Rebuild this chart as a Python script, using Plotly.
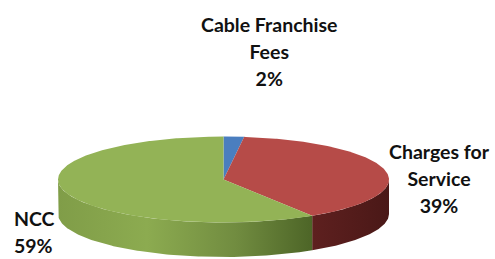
import numpy as np
import plotly.graph_objects as go

# ---- data ----
categories = ["Cable Franchise<br>Fees", "Charges for<br>Service", "NCC"]
values = [2, 39, 59]
top_colors = ["#4a7ebf", "#b64b48", "#93b356"]
side_scales = [
    [[0, "#3a6598"], [1, "#2e5280"]],
    [[0, "#5e201f"], [1, "#4a1817"]],
    [[0, "#809d48"], [0.35, "#8cab50"], [0.7, "#718c40"], [1, "#4d6527"]],
]

# ---- geometry (pixel-like layout units) ----
W, H = 495, 259
cx, cy, rx, ry, depth = 223.5, 179.5, 165.5, 43.0, 34.5


def pt(theta_deg, dy=0.0):
    t = np.radians(theta_deg)
    return cx + rx * np.sin(t), cy - ry * np.cos(t) + dy


total = sum(values)
bounds = np.concatenate([[0], np.cumsum(values) / total * 360.0])

fig = go.Figure()

# front sides (visible for theta between 90 and 270, clockwise from 12 o'clock)
for i in range(len(values)):
    a, b = bounds[i], bounds[i + 1]
    lo, hi = max(a, 90.0), min(b, 270.0)
    if hi <= lo:
        continue
    th = np.linspace(lo, hi, 120)
    xt, yt = pt(th)
    xb, yb = pt(th[::-1], depth)
    xs = np.concatenate([xt, xb, xt[:1]])
    ys = np.concatenate([yt, yb, yt[:1]])
    fig.add_trace(go.Scatter(
        x=xs, y=ys, mode="lines", fill="toself",
        line=dict(width=0, color=side_scales[i][0][1]),
        fillgradient=dict(type="horizontal", colorscale=side_scales[i]),
        hoverinfo="skip", showlegend=False))

# top faces
for i in range(len(values)):
    a, b = bounds[i], bounds[i + 1]
    th = np.linspace(a, b, max(8, int((b - a) * 2)))
    xt, yt = pt(th)
    xs = np.concatenate([[cx], xt, [cx]])
    ys = np.concatenate([[cy], yt, [cy]])
    fig.add_trace(go.Scatter(
        x=xs, y=ys, mode="lines", fill="toself",
        fillcolor=top_colors[i], line=dict(width=0, color=top_colors[i]),
        hoverinfo="skip", showlegend=False))

# labels
label_pos = [
    dict(x=268.5, y=51, xanchor="center", align="center"),
    dict(x=439.5, y=178.5, xanchor="center", align="center"),
    dict(x=12, y=231.5, xanchor="left", align="left"),
]
for i, name in enumerate(categories):
    pct = round(values[i] / total * 100)
    txt = f"<span style='font-size:19.5px'>{name}<br>{pct}%</span>"
    fig.add_annotation(
        text=txt, showarrow=False, xref="x", yref="y",
        yanchor="middle", font=dict(family="Lato", size=20.8, color="#111111", weight="bold"),
        **label_pos[i])

fig.update_layout(
    width=W, height=H, margin=dict(l=0, r=0, t=0, b=0),
    paper_bgcolor="white", plot_bgcolor="white",
    xaxis=dict(range=[0, W], visible=False, fixedrange=True),
    yaxis=dict(range=[H, 0], visible=False, fixedrange=True),
)

fig.write_html("out.html", config={"displayModeBar": False, "staticPlot": True},
               post_script="document.body.style.margin='0';document.body.style.overflow='hidden';")
